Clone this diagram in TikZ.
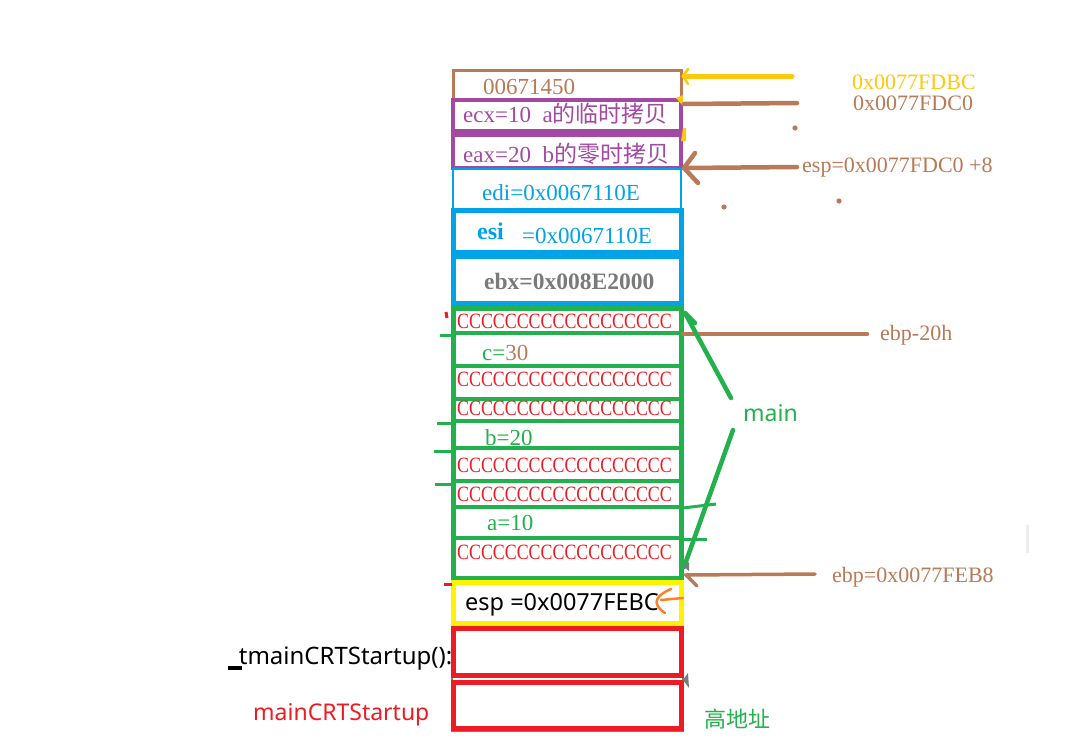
\documentclass[tikz,border=0pt]{standalone}
\usepackage{fontspec}
\usepackage{graphicx}
\setmainfont{Liberation Serif}
\newfontfamily\cjk{Noto Sans CJK SC}
\newfontfamily\nsans{Noto Sans}
\definecolor{brn}{HTML}{B97A57}
\definecolor{pur}{HTML}{A349A4}
\definecolor{blu}{HTML}{00A2E8}
\definecolor{grn}{HTML}{22B14C}
\definecolor{rd}{HTML}{ED1C24}
\definecolor{ylw}{HTML}{FFF200}
\definecolor{gold}{HTML}{FFC90E}
\definecolor{orn}{HTML}{FF7F27}
\definecolor{gry}{HTML}{7A7A7A}
\newcommand{\fs}[1]{\fontsize{#1}{#1}\selectfont}
\newcommand{\crow}{\scalebox{0.82}[1]{CCCCCCCCCCCCCCCCCC}}
\begin{document}
\begin{tikzpicture}[x=1pt,y=-1pt,
  cellbox/.style={draw, rectangle, inner sep=0pt, minimum width=228pt},
  txt/.style={inner sep=0pt, anchor=west, text height=15.5pt, text depth=0pt},
  ser/.style={txt, font=\fs{23}},
  crowtxt/.style={txt, text=rd, font=\fs{21.8}},
  lbl/.style={txt, font=\fs{22}},
  brnline/.style={draw=brn, line width=4.5pt, line cap=round, line join=round},
  grnline/.style={draw=grn, line width=4.5pt, line cap=round},
  grnrow/.style={draw=grn, line width=4pt},
  stub/.style={draw=grn, line width=3pt}]
\useasboundingbox[fill=white] (0,0) rectangle (1081,755);

% ---- stack cells ----
\node[cellbox, draw=brn, line width=3pt, minimum height=29pt] (c0) at (567,84.5) {};
\node[cellbox, draw=pur, line width=4pt, minimum height=31pt] (c1) at (567,115.5) {};
\node[cellbox, draw=pur, line width=4pt, minimum height=33pt] (c2) at (567,151.5) {};
\node[cellbox, draw=blu, line width=2pt, minimum height=40pt] (c3) at (567,189) {};
\node[cellbox, draw=blu, line width=5pt, minimum height=42pt] (c4) at (567,231) {};
\node[cellbox, draw=blu, line width=5pt, minimum height=47pt] (c5) at (567,279.5) {};
\node[cellbox, draw=grn, line width=5pt, minimum height=270pt] (mainframe) at (567,443) {};
\foreach \yy in {333,366,399,421,448,481,507,538}
  \draw[grnrow] (454,\yy) -- (681,\yy);
\node[draw=grn, line width=1.5pt, rectangle, inner sep=0pt, minimum width=231pt, minimum height=152pt] (lowframe) at (567.5,655) {};
\node[cellbox, draw=ylw, line width=5pt, minimum height=41pt] (c6) at (567,602.5) {};
\node[cellbox, draw=rd, line width=5pt, minimum height=47pt] (c7) at (567,651.5) {};
\node[cellbox, draw=rd, line width=5pt, minimum height=46pt] (c8) at (567,705) {};

% ---- cell texts ----
\node[ser, text=brn] (t0) at (483,87) {00671450};
\node[ser, text=pur] (t1) at (463,115) {ecx=10\hspace{0.25em} a{\cjk 的临时拷贝}};
\node[ser, text=pur] (t2) at (463,155) {eax=20\hspace{0.25em} b{\cjk 的零时拷贝}};
\node[ser, text=blu] (t3) at (482,193) {edi=0x0067110E};
\node[ser, text=blu, font=\fs{24}\bfseries] (t4a) at (477,232) {esi};
\node[ser, text=blu] (t4b) at (522,236) {=0x0067110E};
\node[ser, text=gry, font=\fs{23.5}\bfseries] (t5) at (484,282) {ebx=0x008E2000};
\node[crowtxt] (r1) at (457,321) {\crow};
\node[ser, text=grn] (r2) at (482,353) {c=\textcolor{brn}{30}};
\node[crowtxt] (r3) at (457,379) {\crow};
\node[crowtxt] (r4) at (457,408) {\crow};
\node[ser, text=grn] (r5) at (485,438) {b=20};
\node[crowtxt] (r6) at (457,465) {\crow};
\node[crowtxt] (r7) at (457,494) {\crow};
\node[ser, text=grn] (r8) at (487,523) {a=10};
\node[crowtxt] (r9) at (457,552) {\crow};
\node[txt, font=\nsans\fs{23.5}] (t6) at (465,603) {esp =0x0077FEBC};

% orange arrow inside esp cell
\draw[orn, line width=2.5pt, line cap=round] (683,598) -- (661,600);
\draw[orn, line width=2.5pt, line cap=round] (671,589) .. controls (657,595) and (650,603) .. (665,613);

% ---- left labels ----
\node[txt, font=\nsans\fs{24}] (l1) at (228,657) {\_tmainCRTStartup():};
\node[txt, text=rd, font=\nsans\fs{23}] (l2) at (253,713) {mainCRTStartup};

% ---- right labels ----
\node[lbl, text=gold] (a1) at (852,82) {0x0077FDBC};
\node[lbl, text=brn] (a2) at (853,103) {0x0077FDC0};
\node[lbl, text=brn] (a3) at (802,165) {esp=0x0077FDC0 +8};
\node[lbl, text=brn] (a4) at (880,333) {ebp-20h};
\node[lbl, text=brn] (a5) at (832,575) {ebp=0x0077FEB8};
\node[txt, text=grn, font=\nsans\fs{23}] (mainlbl) at (743,414) {main};
\node[txt, text=grn, font=\cjk\fs{22}] (high) at (704,720) {高地址};

% ---- connectors ----
\coordinate (y1s) at (792,76);  \coordinate (y1e) at (684,76);
\draw[draw=gold, line width=5pt, line cap=round] (y1s) -- (y1e);
\draw[draw=gold, line width=2.5pt, line cap=round] (688,69) -- (683,76) -- (688,84);
\fill[gold] (676,98) -- (683,95) -- (683,106) -- cycle;
\fill[gold] (683,128) -- (686,128) -- (686,141) -- (681,141) -- cycle;

\coordinate (b1s) at (797,103); \coordinate (b1e) at (684,104);
\draw[brnline] (b1s) -- (b1e);

\coordinate (b2s) at (797,167); \coordinate (b2e) at (684,168);
\draw[brnline] (b2s) -- (b2e);
\draw[brnline] (695,153) -- (b2e) -- (698,183);

\coordinate (b3s) at (867,334); \coordinate (b3e) at (683,334);
\draw[brnline] (b3s) -- (b3e);

\coordinate (b4s) at (815,574); \coordinate (b4e) at (686,575);
\draw[draw=brn, line width=3.5pt, line cap=round] (b4s) -- (b4e) -- (697,586);

\fill[brn] (795,128) circle (2.6);
\fill[brn] (724,207) circle (2.6);
\fill[brn] (839,201) circle (2.6);

% main bracket strokes
\coordinate (m1) at (685,313); \coordinate (m2) at (731,398);
\coordinate (m3) at (733,430); \coordinate (m4) at (684,567);
\draw[grnline] (m1) -- (m2);
\draw[grnline] (m1) -- (695,323);
\draw[grnline] (m3) -- (m4);
\draw[stub] (683,508) -- (716,504);
\draw[stub] (683,539) -- (707,539);
\draw[stub] (440,335) -- (453,335);
\draw[stub] (437,423) -- (453,423);
\draw[stub] (434,451) -- (453,451);
\draw[stub] (435,484) -- (453,484);

% small marks
\fill[gry] (683,566) -- (689,562) -- (689,571) -- cycle;
\fill[gry] (683,680) -- (688,673) -- (689,688) -- cycle;
\draw[rd, line width=3pt] (446,312) -- (447,318);
\draw[rd, line width=3pt] (444,584) -- (452,584);
\draw[black, line width=4pt] (228,668) -- (242,668);
\draw[draw=black!7, line width=3pt] (1027,525) -- (1027,553);
\end{tikzpicture}
\end{document}
